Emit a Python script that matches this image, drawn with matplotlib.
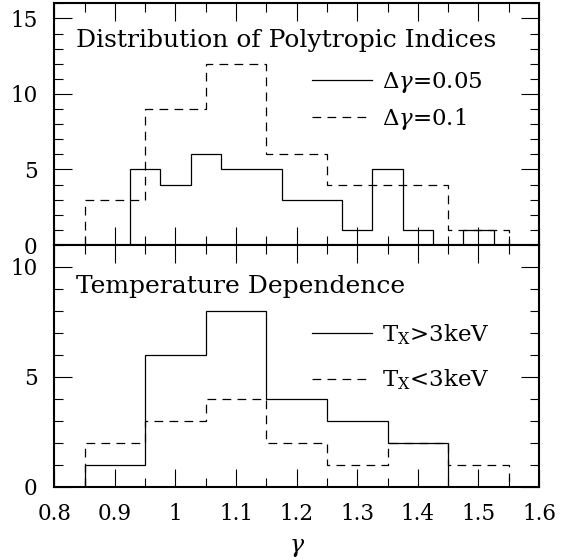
import matplotlib
matplotlib.use('Agg')
import matplotlib.pyplot as plt
import numpy as np
from matplotlib.ticker import MultipleLocator, FormatStrFormatter

# bin edges and counts
edges_fine = np.arange(0.925, 1.5251, 0.05)      # delta gamma = 0.05
counts_fine = [5, 4, 6, 5, 5, 3, 3, 1, 5, 1, 0, 1]

edges_coarse = np.arange(0.85, 1.5501, 0.1)      # delta gamma = 0.1
counts_coarse = [3, 9, 12, 6, 4, 4, 1]

edges_hot = np.arange(0.85, 1.4501, 0.1)         # Tx > 3 keV
counts_hot = [1, 6, 8, 4, 3, 2]

edges_cold = np.arange(0.85, 1.5501, 0.1)        # Tx < 3 keV
counts_cold = [2, 3, 4, 2, 1, 2, 1]

xticks = [0.8, 0.9, 1.0, 1.1, 1.2, 1.3, 1.4, 1.5, 1.6]
xticklabels = ['0.8', '0.9', '1', '1.1', '1.2', '1.3', '1.4', '1.5', '1.6']


def styleAxis(ax, ymax, ymajor):
    ax.set_xlim(0.8, 1.6)
    ax.set_ylim(0, ymax)
    ax.set_xticks(xticks)
    ax.xaxis.set_minor_locator(MultipleLocator(0.05))
    ax.yaxis.set_major_locator(MultipleLocator(ymajor))
    ax.yaxis.set_minor_locator(MultipleLocator(1))
    ax.yaxis.set_major_formatter(FormatStrFormatter('%d'))
    ax.tick_params(which='both', direction='in', top=True, right=True,
                   width=0.8, color='black')
    ax.tick_params(which='major', length=13, labelsize=15.5, pad=12)
    ax.tick_params(which='minor', length=6.5)
    for s in ax.spines.values():
        s.set_linewidth(1.5)


def createPlot():
    plt.rcParams['font.family'] = ['DejaVu Serif']
    plt.rcParams['mathtext.fontset'] = 'dejavuserif'

    fig = plt.figure(figsize=(5.61, 5.60), dpi=100)
    ax1 = fig.add_axes([0.0968, 0.5625, 0.864, 0.4316])
    ax2 = fig.add_axes([0.0968, 0.1309, 0.864, 0.4316])

    # upper panel: distribution of polytropic indices
    ax1.stairs(counts_fine, edges_fine, baseline=0, color='black', lw=0.9,
               label=r'$\Delta\gamma$=0.05')
    ax1.stairs(counts_coarse, edges_coarse, baseline=0, color='black', lw=0.9,
               linestyle=(0, (7, 5)), label=r'$\Delta\gamma$=0.1')
    styleAxis(ax1, 16, 5)
    ax1.tick_params(labelbottom=False)
    ax1.text(0.045, 0.818, 'Distribution of Polytropic Indices', fontsize=18,
             transform=ax1.transAxes, va='baseline')
    ax1.legend(loc='upper left', bbox_to_anchor=(0.531, 0.724), frameon=False,
               fontsize=16.5, handlelength=2.62, handletextpad=0.44,
               labelspacing=0.48, borderpad=0, borderaxespad=0)

    # lower panel: temperature dependence
    ax2.stairs(counts_hot, edges_hot, baseline=0, color='black', lw=0.9,
               label=r'T$_{\mathrm{X}}$>3keV')
    ax2.stairs(counts_cold, edges_cold, baseline=0, color='black', lw=0.9,
               linestyle=(0, (7, 5)), label=r'T$_{\mathrm{X}}$<3keV')
    styleAxis(ax2, 11, 5)
    ax2.set_xticklabels(xticklabels)
    ax2.set_xlabel(r'$\gamma$', fontsize=17, labelpad=8)
    ax2.text(0.045, 0.80, 'Temperature Dependence', fontsize=18,
             transform=ax2.transAxes, va='baseline')
    ax2.legend(loc='upper left', bbox_to_anchor=(0.531, 0.68), frameon=False,
               fontsize=16.5, handlelength=2.62, handletextpad=0.44,
               labelspacing=0.91, borderpad=0, borderaxespad=0)

    fig.savefig('out.png', dpi=100)


if __name__ == "__main__":
    createPlot()
